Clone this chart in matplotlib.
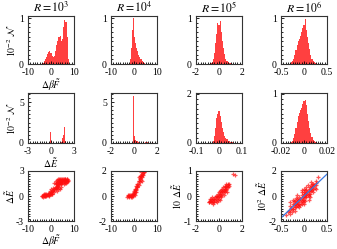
import numpy as np
import matplotlib
matplotlib.use("Agg")
import matplotlib.pyplot as plt
from matplotlib.ticker import AutoMinorLocator

# ---- data ----
titles = [r"$R=10^3$", r"$R=10^4$", r"$R=10^5$", r"$R=10^6$"]

# row 1: histograms of dbF (10^-2 N)
h1_x = [[-4.0, -3.5, -3.0, -2.5, -2.0, -1.5, -1.0, -0.5, 0.0, 0.5, 1.0, 1.5, 2.0, 2.5, 3.0, 3.5, 4.0, 4.5, 5.0, 5.5, 6.0, 6.5, 7.0, 7.5],
        [-2.0, -1.6, -1.2, -0.8, -0.4, 0.0, 0.4, 0.8, 1.2, 1.6, 2.0, 2.4, 2.8, 3.2, 3.6, 4.0, 4.4, 4.8],
        [-0.7, -0.6, -0.5, -0.4, -0.3, -0.2, -0.1, 0.0, 0.1, 0.2, 0.3, 0.4, 0.5, 0.6, 0.7, 0.8, 0.9, 1.0, 1.1, 1.2],
        [-0.3, -0.275, -0.25, -0.225, -0.2, -0.175, -0.15, -0.125, -0.1, -0.075, -0.05, -0.025, 0.0, 0.025, 0.05, 0.075, 0.1, 0.125, 0.15, 0.175, 0.2, 0.225, 0.25, 0.275, 0.3]]
h1_y = [[0.01, 0.03, 0.06, 0.10, 0.16, 0.22, 0.27, 0.28, 0.24, 0.18, 0.15, 0.17, 0.28, 0.42, 0.50, 0.58, 0.62, 0.50, 0.55, 0.80, 0.96, 0.92, 0.60, 0.10],
        [0.02, 0.10, 0.35, 0.75, 1.00, 0.85, 0.60, 0.45, 0.35, 0.28, 0.20, 0.15, 0.12, 0.10, 0.07, 0.05, 0.03, 0.01],
        [0.02, 0.05, 0.12, 0.25, 0.45, 0.65, 0.90, 0.85, 0.95, 0.70, 0.50, 0.35, 0.22, 0.12, 0.07, 0.05, 0.03, 0.02, 0.02, 0.01],
        [0.02, 0.04, 0.07, 0.12, 0.20, 0.30, 0.42, 0.50, 0.55, 0.62, 0.70, 0.78, 0.85, 0.98, 0.75, 0.60, 0.45, 0.32, 0.20, 0.12, 0.07, 0.05, 0.03, 0.02, 0.01]]
h1_w = [0.5, 0.4, 0.1, 0.025]

# row 2: histograms of dE (10^-2 N)
h2_x = [[-0.2, -0.1, 0.0, 0.1, 0.2, 0.3, 1.4, 1.5, 1.6, 1.7, 1.8, 1.9, 2.0],
        [-0.1, -0.05, 0.0, 0.05, 0.1, 0.15, 0.2, 0.3, 0.4, 0.6, 0.8, 1.0, 1.2, 1.4, 1.6, 1.9],
        [-0.03, -0.025, -0.02, -0.015, -0.01, -0.005, 0.0, 0.005, 0.01, 0.015, 0.02, 0.025, 0.03, 0.035, 0.04, 0.045, 0.05, 0.055, 0.06, 0.065, 0.07],
        [-0.011, -0.010, -0.009, -0.008, -0.007, -0.006, -0.005, -0.004, -0.003, -0.002, -0.001, 0.0, 0.001, 0.002, 0.003, 0.004, 0.005, 0.006, 0.007, 0.008, 0.009, 0.010, 0.011, 0.012]]
h2_y = [[0.1, 1.4, 0.6, 0.2, 0.05, 0.03, 0.1, 0.6, 1.0, 3.9, 2.0, 0.3, 0.05],
        [0.2, 5.7, 1.8, 0.8, 0.5, 0.35, 0.3, 0.2, 0.15, 0.1, 0.1, 0.08, 0.08, 0.1, 0.1, 0.4],
        [0.02, 0.1, 0.3, 0.6, 1.0, 1.2, 1.3, 1.1, 0.85, 0.6, 0.45, 0.3, 0.22, 0.15, 0.1, 0.07, 0.05, 0.04, 0.03, 0.02, 0.02],
        [0.02, 0.05, 0.10, 0.18, 0.30, 0.42, 0.55, 0.62, 0.68, 0.72, 0.80, 0.85, 0.88, 0.78, 0.60, 0.45, 0.30, 0.20, 0.12, 0.07, 0.05, 0.03, 0.02, 0.01]]
h2_w = [0.1, 0.06, 0.005, 0.001]

# row 3: scatter dE vs dbF, (x, y) pairs per panel
s_pts = [
    [(-4, 0.0), (-3.5, 0.1), (-3, 0.0), (-3, 0.2), (-2.5, 0.1), (-2, 0.2), (-2, 0.0), (-1.5, 0.3),
     (-1, 0.1), (-1, 0.4), (-0.5, 0.2), (0, 0.3), (0, 0.5), (0.5, 0.6), (-1.5, 0.1), (-2.5, 0.3),
     (-3.5, -0.1), (0.5, 0.3), (1, 0.7), (1.5, 0.9), (1, 1.0), (2, 0.8), (2, 1.1), (2.5, 1.2),
     (3, 0.9), (3, 1.3), (3.5, 1.0), (1.5, 0.5), (2.5, 0.6), (4, 0.9), (4.5, 1.1), (0, 0.8),
     (-0.5, 0.6), (1.5, 1.6), (2, 1.8), (2.5, 1.5), (3, 1.7), (3, 2.0), (3.5, 1.9), (4, 1.6),
     (4, 2.1), (4.5, 1.8), (5, 2.0), (5, 1.6), (5.5, 1.9), (6, 1.8), (6, 2.1), (6.5, 1.9),
     (7, 1.8), (7, 2.0), (3.5, 1.4), (5.5, 1.5), (6.5, 1.6), (2, 1.4), (4.5, 1.4), (7.5, 1.9),
     (2, 1.6), (2.5, 1.9), (3, 1.5), (3.5, 1.7), (4, 1.9), (4.5, 2.0), (5, 1.8), (5.5, 1.7),
     (6, 1.6), (6.5, 1.8), (7, 1.7), (4, 1.7), (5, 1.9), (5.5, 2.1), (6, 1.9), (4.5, 1.6),
     (3.5, 2.1), (6.8, 2.0), (7.3, 1.8), (5.8, 1.8), (4.8, 1.7), (3.8, 1.8), (2.8, 1.7),
     (5.2, 2.1), (6.2, 2.0), (-3.8, 0.05), (-3.2, 0.15), (-2.8, 0.05), (-2.2, 0.15), (-1.8, 0.1),
     (-1.2, 0.25), (-0.8, 0.3), (-0.2, 0.4), (0.2, 0.45), (0.8, 0.55), (1.2, 0.8), (1.8, 1.0),
     (2.2, 1.0), (2.8, 1.1), (3.2, 1.2), (0.3, 0.2), (-0.7, 0.05), (-2.7, -0.05)],
    [(-3, -0.05), (-2.5, 0.0), (-2, 0.0), (-1.5, 0.05), (-1, 0.1), (-1.5, -0.1), (-0.5, 0.15),
     (0, 0.2), (-0.5, 0.0), (0, 0.4), (0.5, 0.3), (0.5, 0.6), (1, 0.5), (1, 0.8), (1.5, 0.7),
     (1.5, 1.0), (2, 0.9), (2, 1.2), (2.5, 1.1), (2.5, 1.4), (3, 1.3), (3, 1.6), (3.5, 1.5),
     (3.5, 1.8), (4, 1.7), (4, 2.0), (3, 1.9), (4.5, 1.9), (2, 1.5), (3.5, 1.2), (-2, 0.1),
     (-1, -0.05), (0.5, 0.1), (1, 0.3), (-2.8, 0.05), (-2.2, -0.05), (-1.8, 0.05), (-1.2, 0.0),
     (-0.8, 0.1), (-0.2, 0.25), (0.2, 0.35), (0.8, 0.55), (1.2, 0.7), (1.8, 1.0), (2.2, 1.2),
     (2.8, 1.45), (3.2, 1.6), (3.8, 1.85), (4.2, 1.9), (2.5, 1.6), (3.3, 1.7), (1.5, 0.8),
     (0.3, 0.5), (-0.3, 0.05)],
    [(-0.9, -0.25), (-0.8, -0.2), (-0.7, -0.25), (-0.6, -0.15), (-0.5, -0.22), (-0.4, -0.1),
     (-0.3, -0.2), (-0.2, -0.05), (-0.1, -0.15), (0, 0), (0, -0.1), (0.1, 0.05), (0.2, -0.05),
     (0.2, 0.15), (0.3, 0.1), (0.4, 0.2), (0.4, 0.05), (0.5, 0.3), (0.5, 0.15), (0.6, 0.25),
     (0.6, 0.4), (0.7, 0.35), (0.8, 0.5), (-0.6, -0.05), (-0.3, 0.0), (-0.1, 0.1), (0.1, 0.2),
     (0.3, 0.3), (-0.8, -0.1), (0.7, 0.15), (0.9, 0.4), (1.2, 0.9), (1.35, 0.85), (-0.5, -0.3),
     (-0.2, -0.25), (0.1, -0.15), (-0.85, -0.25), (-0.75, -0.18), (-0.65, -0.22), (-0.55, -0.12),
     (-0.45, -0.15), (-0.35, -0.05), (-0.25, -0.12), (-0.15, 0.0), (-0.05, -0.05), (0.05, 0.1),
     (0.15, 0.0), (0.25, 0.2), (0.35, 0.15), (0.45, 0.25), (0.55, 0.35), (0.65, 0.3), (0.75, 0.45),
     (0.85, 0.5), (0.15, 0.25), (0.35, 0.35), (-0.4, -0.25), (0.0, 0.15), (0.5, 0.4), (-0.7, -0.1),
     (0.6, 0.5), (0.8, 0.35)],
    [(-0.35, -1.3), (-0.3, -1.1), (-0.3, -0.8), (-0.25, -1.0), (-0.25, -0.6), (-0.2, -0.9),
     (-0.2, -0.4), (-0.15, -0.7), (-0.15, -0.2), (-0.1, -0.6), (-0.1, -0.1), (-0.1, -0.35),
     (-0.05, -0.4), (-0.05, 0.1), (-0.05, -0.15), (0, 0), (0, 0.3), (0, -0.3), (0.05, 0.1),
     (0.05, 0.45), (0.05, -0.1), (0.1, 0.2), (0.1, 0.6), (0.1, 0.4), (0.15, 0.4), (0.15, 0.8),
     (0.15, 0.6), (0.2, 0.6), (0.2, 1.0), (0.25, 0.9), (0.25, 1.2), (0.3, 1.5), (-0.2, -0.65),
     (-0.3, -1.4), (0, 0.15), (0.05, 0.25), (-0.15, -0.45), (0.2, 0.8), (-0.4, -1.5), (0.1, 0.0),
     (-0.05, -0.6), (-0.33, -1.2), (-0.28, -0.95), (-0.27, -1.25), (-0.22, -0.75), (-0.23, -1.05),
     (-0.18, -0.55), (-0.17, -0.85), (-0.12, -0.3), (-0.13, -0.6), (-0.08, -0.25), (-0.07, -0.5),
     (-0.03, -0.05), (-0.02, -0.3), (0.02, 0.15), (0.03, -0.1), (0.07, 0.3), (0.08, 0.05),
     (0.12, 0.45), (0.13, 0.2), (0.17, 0.7), (0.18, 0.5), (0.22, 0.85), (0.23, 0.65), (0.12, 0.7),
     (-0.12, -0.8), (0.02, 0.45), (-0.02, -0.5), (0.17, 0.95), (-0.22, -0.4), (0.27, 1.05),
     (-0.25, -0.3), (-0.15, 0.05), (-0.05, 0.35), (0.05, 0.7), (0.15, 1.1), (-0.3, -0.5),
     (-0.2, -1.2), (-0.1, -0.9), (0, -0.6), (0.1, -0.3), (0.2, 0.3), (0.25, 0.55), (-0.05, 0.5),
     (0.0, 0.6), (0.08, 0.85), (-0.18, -0.15), (-0.08, -0.75), (0.02, -0.4), (0.12, -0.05)],
]
fit_slope = 3.5

# axis ranges and ticks
xr = [(-10, 10), (-10, 10), (-2, 2), (-0.5, 0.5)]
xt = [["-10", "0", "10"], ["-10", "0", "10"], ["-2", "0", "2"], ["-0.5", "0", "0.5"]]
xr2 = [(-3, 3), (-2, 2), (-0.1, 0.1), (-0.02, 0.02)]
xt2 = [["-3", "0", "3"], ["-2", "0", "2"], ["-0.1", "0", "0.1"], ["-0.02", "0", "0.02"]]
yr2 = [6, 6, 2, 1]
yt2 = [5, 5, 2, 1]
yr3 = [3, 2, 1, 2]

plt.rcParams.update({
    "font.family": "serif",
    "font.serif": ["Liberation Serif", "DejaVu Serif"],
    "mathtext.fontset": "stix",
    "font.size": 7,
    "axes.unicode_minus": False,
    "axes.linewidth": 0.8,
    "axes.edgecolor": "0.2",
    "xtick.direction": "in",
    "ytick.direction": "in",
    "xtick.major.size": 2.5,
    "ytick.major.size": 2.5,
    "xtick.minor.size": 1.2,
    "ytick.minor.size": 1.2,
    "xtick.major.pad": 3,
    "ytick.major.pad": 3,
})

W, H = 337, 249
fig = plt.figure(figsize=(W / 100, H / 100), dpi=100)

lefts = [28, 111, 196, 281]
rows = [(16, 64), (93, 143), (171, 221)]
red = "#ff1010"


def make_ax(col, row):
    top, bot = rows[row]
    ax = fig.add_axes([lefts[col] / W, (H - bot) / H, 46 / W, (bot - top) / H])
    ax.xaxis.set_minor_locator(AutoMinorLocator(10))
    ax.yaxis.set_minor_locator(AutoMinorLocator(10))
    ax.tick_params(which="both", top=False, right=False, labelsize=7, width=0.6)
    return ax


for c in range(4):
    # row 1
    ax = make_ax(c, 0)
    ax.bar(h1_x[c], h1_y[c], width=h1_w[c], color=red, alpha=0.8, lw=0)
    lo, hi = xr[c]
    ax.set_xlim(lo, hi)
    ax.set_xticks([lo, 0, hi], xt[c])
    ax.set_ylim(0, 1.05)
    ax.set_yticks([0, 1], ["0", "1"])
    ax.set_title(titles[c], fontsize=8.5, pad=3)
    if c == 0:
        ax.set_xlabel(r"$\Delta\beta\tilde{F}$", labelpad=0)
        ax.set_ylabel(r"$10^{-2}\ \mathcal{N}$", labelpad=1)

    # row 2
    ax = make_ax(c, 1)
    ax.bar(h2_x[c], h2_y[c], width=h2_w[c], color=red, alpha=0.8, lw=0)
    lo, hi = xr2[c]
    ax.set_xlim(lo, hi)
    ax.set_xticks([lo, 0, hi], xt2[c])
    ax.set_ylim(0, yr2[c] * 1.02)
    ax.set_yticks([0, yt2[c]], ["0", str(yt2[c])])
    if c == 0:
        ax.set_xlabel(r"$\Delta\tilde{E}$", labelpad=0)
        ax.set_ylabel(r"$10^{-2}\ \mathcal{N}$", labelpad=1)

    # row 3
    ax = make_ax(c, 2)
    px, py = zip(*s_pts[c])
    ax.plot(px, py, "+", color=red, ms=3.5, mew=0.9, alpha=0.7)
    lo, hi = xr[c]
    ax.set_xlim(lo, hi)
    ax.set_xticks([lo, 0, hi], xt[c])
    ym = yr3[c]
    ax.set_ylim(-ym, ym)
    ax.set_yticks([-ym, 0, ym], [str(-ym), "0", str(ym)])
    if c == 0:
        ax.set_xlabel(r"$\Delta\beta\tilde{F}$", labelpad=-1)
        ax.set_ylabel(r"$\Delta\tilde{E}$", labelpad=-1)
    if c == 2:
        ax.set_ylabel(r"$10\ \Delta\tilde{E}$", labelpad=0)
    if c == 3:
        ax.set_ylabel(r"$10^2\ \Delta\tilde{E}$", labelpad=0)
        lx = np.array([lo, hi])
        ax.plot(lx, fit_slope * lx, color="#3a78e0", lw=0.9)

fig.savefig("out.png", dpi=100)
